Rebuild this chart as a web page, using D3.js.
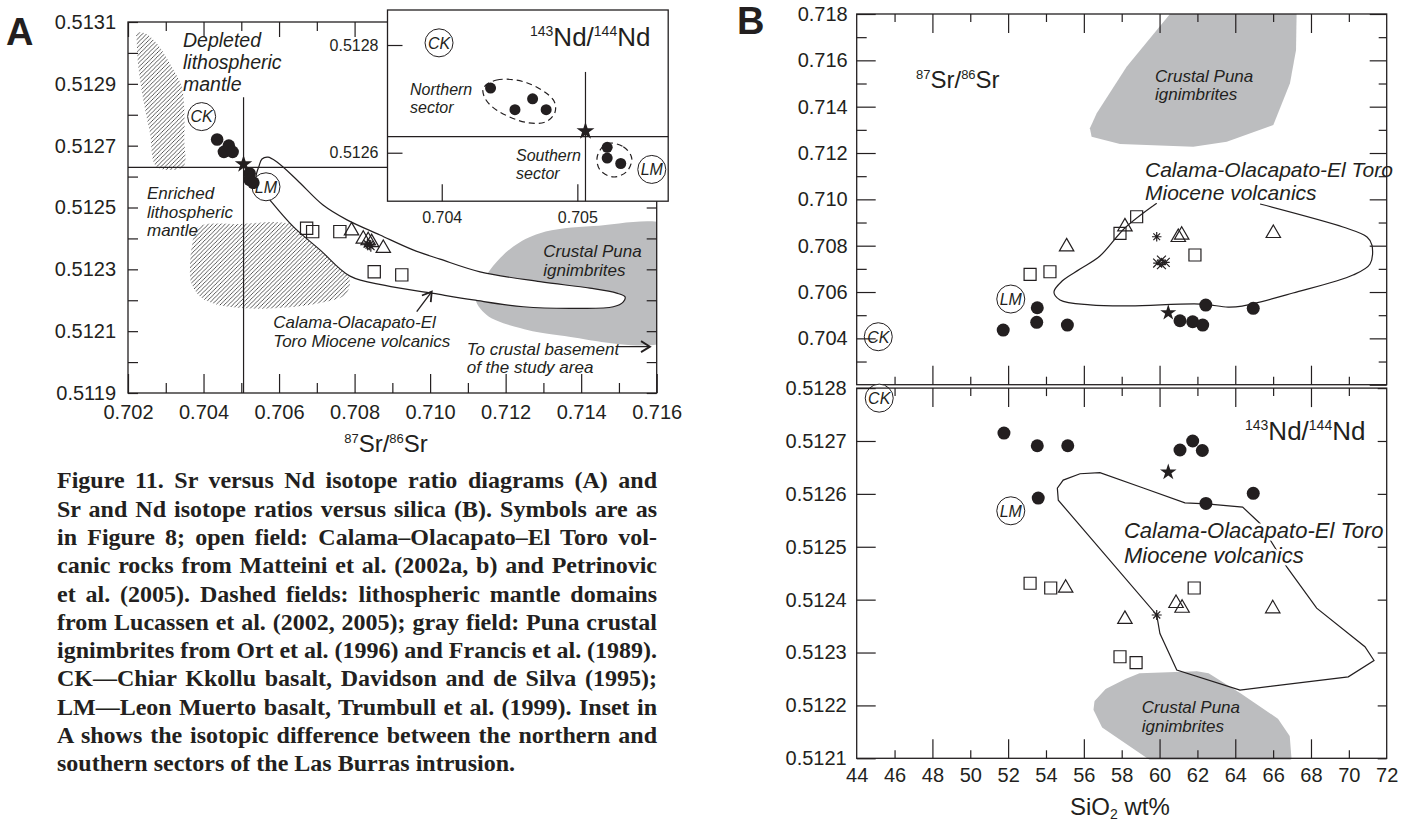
<!DOCTYPE html>
<html>
<head>
<meta charset="utf-8">
<script src="https://cdn.jsdelivr.net/npm/d3@7"></script>
<style>
  body { margin: 0; background: #fff; }
  svg text { font-family: "Liberation Sans", Arial, sans-serif; fill: #231f20; }
  svg text.cap { font-family: "Liberation Serif", "Times New Roman", serif; font-weight: bold; }
</style>
</head>
<body>
<script>
// ---------- panel A : 87Sr/86Sr vs 143Nd/144Nd ----------
const aCircles = [[0.70436, 0.51272], [0.70454, 0.51268], [0.70467, 0.51270], [0.70477, 0.51268],
                  [0.70522, 0.51261], [0.70522, 0.51259], [0.70532, 0.51258]];
const aSquares = [[0.70673, 0.512433], [0.70689, 0.512422], [0.70761, 0.512422], [0.70852, 0.512292], [0.70925, 0.512282]];
const aTriangles = [[0.70792, 0.512425], [0.70823, 0.512398], [0.70836, 0.512393], [0.70845, 0.512387], [0.70876, 0.512368]];
const aAsterisks = [[0.70834, 0.512382], [0.70839, 0.512379], [0.70843, 0.512374]];
const refPoint = [0.70506, 0.51264];       // star, cross lines
const refLineNd = 0.51263;
const aCK = [0.70395, 0.512794], aLM = [0.705654, 0.512567];
const insetCK = [0.70398, 0.512804], insetLM = [0.705549, 0.512569];

const depletedField = [[0.70223, 0.513064], [0.70245, 0.513064], [0.70276, 0.513031], [0.703157, 0.512955],
  [0.703422, 0.512891], [0.703491, 0.512815], [0.703491, 0.512718], [0.703464, 0.512632], [0.70276, 0.512632],
  [0.702583, 0.51274], [0.702405, 0.512848], [0.702273, 0.512955], [0.70223, 0.513042]];
const enrichedField = [[0.703854, 0.512437], [0.704966, 0.512447], [0.706396, 0.512443], [0.707084, 0.512363],
  [0.707791, 0.512287], [0.707879, 0.512253], [0.707746, 0.512217], [0.707084, 0.512191], [0.706025, 0.512175],
  [0.705098, 0.512174], [0.704304, 0.512188], [0.703907, 0.512212], [0.703668, 0.512259], [0.703642, 0.512304],
  [0.703695, 0.512379]];
const aPunaField = [[0.71291, 0.512417], [0.712195, 0.512373], [0.711586, 0.512298], [0.711189, 0.512212],
  [0.711499, 0.512152], [0.712381, 0.51211], [0.713353, 0.512088], [0.7165, 0.512081], [0.7165, 0.51243],
  [0.714322, 0.51244]];
const aCalamaField = [[0.70539, 0.512595], [0.705469, 0.512634], [0.705548, 0.512657], [0.705707, 0.512663],
  [0.705946, 0.512647], [0.706475, 0.512589], [0.707164, 0.512508], [0.707799, 0.51246], [0.708673, 0.512411],
  [0.709547, 0.512363], [0.710262, 0.512333], [0.711321, 0.512292], [0.71291, 0.51226], [0.714234, 0.512239],
  [0.714941, 0.512223], [0.715161, 0.512211], [0.715116, 0.512195], [0.714851, 0.512179], [0.713792, 0.512174],
  [0.712468, 0.512179], [0.711144, 0.512201], [0.710085, 0.512222], [0.708806, 0.512248], [0.707879, 0.512278],
  [0.707084, 0.512363], [0.706377, 0.512438], [0.70576, 0.512524], [0.705548, 0.512557]];
const northernLoop = [[0.704307, 0.51272], [0.704406, 0.512735], [0.704627, 0.51273], [0.704823, 0.512698],
  [0.704836, 0.512676], [0.704774, 0.512658], [0.704627, 0.512656], [0.704406, 0.512679], [0.704319, 0.512701]];
const southernLoop = [[0.705217, 0.512617], [0.705339, 0.512611], [0.705401, 0.51259], [0.705364, 0.512565],
  [0.705265, 0.512555], [0.705167, 0.512568], [0.705147, 0.512593]];
const arrowCalama = [[0.709645, 0.512163], [0.710043, 0.512228]];
const arrowBasement = [[0.714984, 0.51205], [0.715823, 0.51205]];

const aSrLabels = [0.702, 0.704, 0.706, 0.708, 0.710, 0.712, 0.714, 0.716];
const aSrMinor = [0.703, 0.705, 0.707, 0.709, 0.711, 0.713, 0.715];
const aNdLabels = [0.5119, 0.5121, 0.5123, 0.5125, 0.5127, 0.5129, 0.5131];
const aNdMinor = [0.5120, 0.5122, 0.5124, 0.5126, 0.5128, 0.5130];
const insetSrLabels = [0.704, 0.705];
const insetNdLabels = [0.5126, 0.5128];

// ---------- panel B : SiO2 vs 87Sr/86Sr (top) and 143Nd/144Nd (bottom) ----------
const bSrCircles = [[51.74, 0.704359], [53.54, 0.705321], [53.51, 0.704691], [55.13, 0.704575], [61.08, 0.70476],
  [61.75, 0.704717], [62.28, 0.704575], [62.44, 0.705438], [64.95, 0.705296]];
const bSrSquares = [[53.16, 0.706763], [54.21, 0.706876], [57.91, 0.708533], [58.79, 0.70925], [61.87, 0.707597]];
const bSrTriangles = [[55.09, 0.707955], [58.17, 0.708818], [60.99, 0.70836], [61.17, 0.70846], [66.01, 0.708533]];
const bSrAsterisks = [[59.85, 0.708386]];
const bSrCrosses = [[59.9, 0.70725], [60.1, 0.70738], [60.3, 0.70728], [60.1, 0.70718]];
const bSrStar = [60.46, 0.705106];
const bSrCK = [45.14, 0.70407], bSrLM = [52.14, 0.705697];
const bSrPuna = [[60.55, 0.718], [67.24, 0.718], [67.21, 0.71645], [66.89, 0.71501], [66.01, 0.71321],
  [63.55, 0.71249], [61.78, 0.71227], [57.91, 0.71239], [56.41, 0.712703], [56.32, 0.713066], [56.68, 0.713713],
  [58.26, 0.715725]];
const bSrCalama = [[59.85, 0.709828], [58.17, 0.708762], [56.85, 0.707553], [55.8, 0.706992], [54.85, 0.706474],
  [54.42, 0.706], [54.74, 0.705658], [56.33, 0.705442], [58.44, 0.705399], [62.14, 0.705481], [63.62, 0.705352],
  [64.36, 0.705395], [67.05, 0.705956], [70.22, 0.706733], [71.12, 0.707208], [71.22, 0.708028], [70.96, 0.708374],
  [69.69, 0.708805], [65.31, 0.709798]];

const bNdCircles = [[51.78, 0.512715], [53.54, 0.512691], [55.15, 0.512691], [53.59, 0.512592], [61.08, 0.512683],
  [61.75, 0.5127], [62.26, 0.512682], [62.45, 0.512582], [64.95, 0.512601]];
const bNdSquares = [[53.16, 0.512431], [54.25, 0.512422], [61.83, 0.512422], [57.91, 0.512292], [58.76, 0.512281]];
const bNdTriangles = [[55.04, 0.512422], [58.17, 0.512363], [60.87, 0.512393], [61.19, 0.512384], [65.98, 0.512383]];
const bNdAsterisks = [[59.85, 0.512371]];
const bNdStar = [60.46, 0.512641];
const bNdCK = [45.19, 0.512781], bNdLM = [52.14, 0.512568];
const bNdPuna = [[58.97, 0.512258], [61.96, 0.512262], [62.57, 0.512258], [64.25, 0.51222], [66.19, 0.512173],
  [66.8, 0.512141], [66.89, 0.5121], [59.49, 0.5121], [57.03, 0.51216], [56.59, 0.512192], [56.64, 0.512207],
  [57.21, 0.512229], [58.26, 0.512248]];
const bNdCalama = [[54.65, 0.512588], [54.6, 0.512611], [54.91, 0.512626], [55.8, 0.512638], [56.85, 0.51264],
  [59.14, 0.512611], [61.34, 0.512583], [62.49, 0.512581], [64.39, 0.512575], [65.31, 0.512544], [66.72, 0.512462],
  [68.3, 0.512384], [70.85, 0.512311], [71.33, 0.512285], [69.97, 0.512254], [64.25, 0.512229], [60.91, 0.512267],
  [60.02, 0.512336], [59.85, 0.512371]];

const silicaLabels = [44, 46, 48, 50, 52, 54, 56, 58, 60, 62, 64, 66, 68, 70, 72];
const silicaLong = [48, 52, 56, 60, 64, 68];
const silicaShort = [46, 50, 54, 58, 62, 66, 70];
const bSrLabels = [0.704, 0.706, 0.708, 0.710, 0.712, 0.714, 0.716, 0.718];
const bSrEven = [0.702, 0.704, 0.706, 0.708, 0.710, 0.712, 0.714, 0.716, 0.718];
const bSrOdd = [0.703, 0.705, 0.707, 0.709, 0.711, 0.713, 0.715, 0.717];
const bNdLabels = [0.5121, 0.5122, 0.5123, 0.5124, 0.5125, 0.5126, 0.5127, 0.5128];

const captionLines = [
  "Figure 11. Sr versus Nd isotope ratio diagrams (A) and",
  "Sr and Nd isotope ratios versus silica (B). Symbols are as",
  "in Figure 8; open field: Calama\u2013Olacapato\u2013El Toro vol-",
  "canic rocks from Matteini et al. (2002a, b) and Petrinovic",
  "et al. (2005). Dashed fields: lithospheric mantle domains",
  "from Lucassen et al. (2002, 2005); gray field: Puna crustal",
  "ignimbrites from Ort et al. (1996) and Francis et al. (1989).",
  "CK\u2014Chiar Kkollu basalt, Davidson and de Silva (1995);",
  "LM\u2014Leon Muerto basalt, Trumbull et al. (1999). Inset in",
  "A shows the isotopic difference between the northern and",
  "southern sectors of the Las Burras intrusion."
];

// ---------- drawing ----------
const ink = "#231f20", gray = "#bcbdbf";
const svg = d3.select("body").append("svg").attr("width", 1422).attr("height", 825);
const defs = svg.append("defs");
defs.append("pattern").attr("id", "hatch").attr("patternUnits", "userSpaceOnUse")
  .attr("width", 4.2).attr("height", 4.2)
  .append("path").attr("d", "M-1,1 l2,-2 M0,4.2 l4.2,-4.2 M3.2,5.2 l2,-2")
  .attr("stroke", "#333").attr("stroke-width", 0.8);
defs.append("marker").attr("id", "arr").attr("markerUnits", "userSpaceOnUse")
  .attr("markerWidth", 14).attr("markerHeight", 14).attr("refX", 11).attr("refY", 7).attr("orient", "auto")
  .append("path").attr("d", "M2,1.5 L11,7 L2,12.5").attr("fill", "none").attr("stroke", ink).attr("stroke-width", 1.8);

const fmt3 = d3.format(".3f"), fmt4 = d3.format(".4f");

function axis(g, gen, vals, len, fmt, pad, size) {
  const a = gen.tickValues(vals).tickSizeInner(-len).tickSizeOuter(0).tickPadding(pad || 0)
    .tickFormat(fmt || (() => ""));
  const sel = g.append("g").call(a);
  sel.select(".domain").remove();
  sel.attr("font-family", null).attr("font-size", size || 20).attr("color", ink);
  sel.selectAll("line").attr("stroke-width", 1.2);
  return sel;
}

const asterisk8 = {
  draw(ctx, size) {
    const r = Math.sqrt(size) / 2;
    for (let k = 0; k < 4; k++) {
      const a = k * Math.PI / 4, dx = r * Math.cos(a), dy = r * Math.sin(a);
      ctx.moveTo(-dx, -dy); ctx.lineTo(dx, dy);
    }
  }
};
const crossX = {
  draw(ctx, size) {
    const r = Math.sqrt(size) / 2;
    ctx.moveTo(-r, -r); ctx.lineTo(r, r); ctx.moveTo(-r, r); ctx.lineTo(r, -r);
    ctx.moveTo(-r, 0); ctx.lineTo(r, 0);
  }
};

function symbols(g, data, x, y, type, size, filled) {
  g.selectAll(null).data(data).join("path")
    .attr("transform", d => `translate(${x(d[0])},${y(d[1])})`)
    .attr("d", d3.symbol(type, size))
    .attr("fill", filled ? ink : "none")
    .attr("stroke", ink).attr("stroke-width", filled ? 0 : 1.2);
}
function dots(g, data, x, y, r) {
  g.selectAll(null).data(data).join("circle")
    .attr("cx", d => x(d[0])).attr("cy", d => y(d[1])).attr("r", r).attr("fill", ink);
}
function badge(g, p, x, y, txt) {
  g.append("circle").attr("cx", x(p[0])).attr("cy", y(p[1])).attr("r", 14)
    .attr("fill", "#fff").attr("stroke", ink).attr("stroke-width", 1);
  g.append("text").attr("x", x(p[0])).attr("y", y(p[1])).attr("dy", "0.36em")
    .attr("text-anchor", "middle").attr("font-style", "italic").attr("font-size", 16).text(txt);
}
function note(g, p, x, y, lines, size, lead, halo) {
  const t = g.append("text").attr("x", x(p[0])).attr("y", y(p[1]))
    .attr("font-style", "italic").attr("font-size", size);
  if (halo) t.attr("stroke", "#fff").attr("stroke-width", 5).attr("paint-order", "stroke");
  lines.forEach((s, i) => t.append("tspan").attr("x", x(p[0])).attr("dy", i ? lead : 0).text(s));
}
function iso(g, px, py, parts, big, small) {
  const t = g.append("text").attr("x", px).attr("y", py).attr("font-size", big);
  let up = false;
  parts.forEach(s => {
    const sup = /^\d+$/.test(s);
    const sh = big * 0.38;
    t.append("tspan").attr("font-size", sup ? small : big)
      .attr("dy", sup && !up ? -sh : (!sup && up ? sh : 0)).text(s);
    up = sup;
  });
}

// ===== Panel A main =====
const xA = d3.scaleLinear().domain([0.702, 0.716]).range([128, 656.7]);
const yA = d3.scaleLinear().domain([0.5119, 0.5131]).range([393, 22]);
const gA = svg.append("g");
const lineA = d3.line().x(d => xA(d[0])).y(d => yA(d[1]));

defs.append("clipPath").attr("id", "clipA").append("rect")
  .attr("x", xA(0.702)).attr("y", yA(0.5131)).attr("width", xA(0.716) - xA(0.702))
  .attr("height", yA(0.5119) - yA(0.5131));
gA.append("path").attr("d", lineA.curve(d3.curveCatmullRomClosed)(aPunaField)).attr("fill", gray)
  .attr("clip-path", "url(#clipA)");
gA.append("path").attr("d", lineA(depletedField)).attr("fill", "url(#hatch)");
gA.append("path").attr("d", lineA(enrichedField)).attr("fill", "url(#hatch)");
gA.append("path").attr("d", lineA(aCalamaField)).attr("fill", "#fff").attr("stroke", ink).attr("stroke-width", 1.2);
lineA.curve(d3.curveLinear);

// reference cross
gA.append("line").attr("x1", xA(refPoint[0])).attr("x2", xA(refPoint[0]))
  .attr("y1", yA(0.512857)).attr("y2", yA(0.5119)).attr("stroke", ink).attr("stroke-width", 1.2);
gA.append("line").attr("x1", xA(0.702)).attr("x2", xA(0.716))
  .attr("y1", yA(refLineNd)).attr("y2", yA(refLineNd)).attr("stroke", ink).attr("stroke-width", 1.2);

// frame + ticks
gA.append("rect").attr("x", xA(0.702)).attr("y", yA(0.5131)).attr("width", xA(0.716) - xA(0.702))
  .attr("height", yA(0.5119) - yA(0.5131)).attr("fill", "none").attr("stroke", ink).attr("stroke-width", 1.3);
axis(gA.append("g").attr("transform", `translate(0,${yA(0.5119)})`), d3.axisBottom(xA), aSrLabels, 19, fmt3, 12);
axis(gA.append("g").attr("transform", `translate(0,${yA(0.5119)})`), d3.axisBottom(xA), aSrMinor, 10);
axis(gA.append("g").attr("transform", `translate(0,${yA(0.5131)})`), d3.axisTop(xA), aSrLabels, 15);
axis(gA.append("g").attr("transform", `translate(0,${yA(0.5131)})`), d3.axisTop(xA), aSrMinor, 9);
axis(gA.append("g").attr("transform", `translate(${xA(0.702)},0)`), d3.axisLeft(yA), aNdLabels, 10, fmt4, 12);
axis(gA.append("g").attr("transform", `translate(${xA(0.702)},0)`), d3.axisLeft(yA), aNdMinor, 10);
axis(gA.append("g").attr("transform", `translate(${xA(0.716)},0)`), d3.axisRight(yA), aNdLabels.concat(aNdMinor), 10);

note(gA, [0.703456, 0.51302], xA, yA, ["Depleted", "lithospheric", "mantle"], 19.5, 22);
note(gA, [0.702503, 0.512527], xA, yA, ["Enriched", "lithospheric", "mantle"], 17, 18.5);
note(gA, [0.712998, 0.512339], xA, yA, ["Crustal Puna", "ignimbrites"], 17, 18.7);
note(gA, [0.705848, 0.512109], xA, yA, ["Calama-Olacapato-El", "Toro Miocene volcanics"], 17, 18.4);
note(gA, [0.710969, 0.512023], xA, yA, ["To crustal basement", "of the study area"], 17, 18.3);
gA.append("path").attr("d", lineA(arrowCalama)).attr("stroke", ink).attr("stroke-width", 1.3).attr("marker-end", "url(#arr)");
gA.append("path").attr("d", lineA(arrowBasement)).attr("stroke", ink).attr("stroke-width", 1.3).attr("marker-end", "url(#arr)");

badge(gA, aCK, xA, yA, "CK");
badge(gA, aLM, xA, yA, "LM");
symbols(gA, aSquares, xA, yA, d3.symbolSquare, 150, false);
symbols(gA, aTriangles, xA, yA, d3.symbolTriangle, 90, false);
symbols(gA, aAsterisks, xA, yA, asterisk8, 110, false);
dots(gA, aCircles, xA, yA, 6.3);
symbols(gA, [refPoint], xA, yA, d3.symbolStar, 95, true);

gA.append("text").attr("x", 386).attr("y", 452).attr("text-anchor", "middle").attr("font-size", 24)
  .call(t => {
    t.append("tspan").attr("font-size", 13).attr("dy", -9).text("87");
    t.append("tspan").attr("dy", 9).text("Sr/");
    t.append("tspan").attr("font-size", 13).attr("dy", -9).text("86");
    t.append("tspan").attr("dy", 9).text("Sr");
  });

// ===== Panel A inset =====
const xI = d3.scaleLinear().domain([0.7036, 0.70567]).range([387.5, 668.2]);
const yI = d3.scaleLinear().domain([0.51251, 0.512865]).range([201.2, 10]);
const gI = svg.append("g");
gI.append("rect").attr("x", xI(0.7036)).attr("y", yI(0.512865)).attr("width", xI(0.70567) - xI(0.7036))
  .attr("height", yI(0.51251) - yI(0.512865)).attr("fill", "#fff").attr("stroke", ink).attr("stroke-width", 1.3);
gI.append("line").attr("x1", xI(refPoint[0])).attr("x2", xI(refPoint[0]))
  .attr("y1", yI(0.51275)).attr("y2", yI(0.51251)).attr("stroke", ink).attr("stroke-width", 1.2);
gI.append("line").attr("x1", xI(0.7036)).attr("x2", xI(0.70567))
  .attr("y1", yI(refLineNd)).attr("y2", yI(refLineNd)).attr("stroke", ink).attr("stroke-width", 1.2);
axis(gI.append("g").attr("transform", `translate(0,${yI(0.51251)})`), d3.axisBottom(xI), insetSrLabels, 17, fmt3, 10, 16);
axis(gI.append("g").attr("transform", `translate(${xI(0.7036)},0)`), d3.axisLeft(yI), insetNdLabels, 15, fmt4, 9, 16);

const loop = d3.line().x(d => xI(d[0])).y(d => yI(d[1])).curve(d3.curveCatmullRomClosed);
gI.append("path").attr("d", loop(northernLoop)).attr("fill", "none").attr("stroke", ink)
  .attr("stroke-width", 1.2).attr("stroke-dasharray", "6,4");
gI.append("path").attr("d", loop(southernLoop)).attr("fill", "none").attr("stroke", ink)
  .attr("stroke-width", 1.2).attr("stroke-dasharray", "6,4");
dots(gI, aCircles, xI, yI, 5.5);
symbols(gI, [refPoint], xI, yI, d3.symbolStar, 100, true);
badge(gI, insetCK, xI, yI, "CK");
badge(gI, insetLM, xI, yI, "LM");
note(gI, [0.703766, 0.512707], xI, yI, ["Northern", "sector"], 16, 18.3);
note(gI, [0.704548, 0.512585], xI, yI, ["Southern", "sector"], 16, 18.3);
iso(gI, 530, 46, ["143", "Nd/", "144", "Nd"], 26, 14);

svg.append("text").attr("x", 6).attr("y", 45).attr("font-size", 38).attr("font-weight", "bold").text("A");
svg.append("text").attr("x", 737).attr("y", 34).attr("font-size", 38).attr("font-weight", "bold").text("B");

// ===== Panel B =====
const xB = d3.scaleLinear().domain([44, 72]).range([856.7, 1386.7]);
const ySr = d3.scaleLinear().domain([0.702, 0.718]).range([384.7, 14]);
const yNd = d3.scaleLinear().domain([0.5121, 0.5128]).range([758.3, 388.1]);
const gT = svg.append("g"), gB = svg.append("g");
const lineT = d3.line().x(d => xB(d[0])).y(d => ySr(d[1]));
const lineB = d3.line().x(d => xB(d[0])).y(d => yNd(d[1]));

// top
gT.append("path").attr("d", lineT(bSrPuna) + "Z").attr("fill", gray);
gT.append("path").attr("d", lineT.curve(d3.curveCatmullRom)(bSrCalama)).attr("fill", "none")
  .attr("stroke", ink).attr("stroke-width", 1.2);
note(gT, [59.76, 0.715078], xB, ySr, ["Crustal Puna", "ignimbrites"], 17, 18.3);
note(gT, [59.23, 0.710977], xB, ySr, ["Calama-Olacapato-El Toro", "Miocene volcanics"], 21, 23.3, true);
iso(gT, 916, 88, ["87", "Sr/", "86", "Sr"], 24, 13);
badge(gT, bSrCK, xB, ySr, "CK");
badge(gT, bSrLM, xB, ySr, "LM");
gT.append("rect").attr("x", xB(44)).attr("y", ySr(0.718)).attr("width", xB(72) - xB(44))
  .attr("height", ySr(0.702) - ySr(0.718)).attr("fill", "none").attr("stroke", ink).attr("stroke-width", 1.3);
axis(gT.append("g").attr("transform", `translate(${xB(44)},0)`), d3.axisLeft(ySr), bSrLabels, 19, fmt3, 9);
axis(gT.append("g").attr("transform", `translate(${xB(44)},0)`), d3.axisLeft(ySr), bSrOdd, 10);
axis(gT.append("g").attr("transform", `translate(${xB(72)},0)`), d3.axisRight(ySr), bSrEven, 17);
axis(gT.append("g").attr("transform", `translate(${xB(72)},0)`), d3.axisRight(ySr), bSrOdd, 8);
axis(gT.append("g").attr("transform", `translate(0,${ySr(0.718)})`), d3.axisTop(xB), silicaLong, 19);
axis(gT.append("g").attr("transform", `translate(0,${ySr(0.718)})`), d3.axisTop(xB), silicaShort, 8);
axis(gT.append("g").attr("transform", `translate(0,${ySr(0.702)})`), d3.axisBottom(xB), silicaLong, 19);
axis(gT.append("g").attr("transform", `translate(0,${ySr(0.702)})`), d3.axisBottom(xB), silicaShort, 8);
symbols(gT, bSrSquares, xB, ySr, d3.symbolSquare, 144, false);
symbols(gT, bSrTriangles, xB, ySr, d3.symbolTriangle, 90, false);
symbols(gT, bSrAsterisks, xB, ySr, asterisk8, 90, false);
symbols(gT, bSrCrosses, xB, ySr, crossX, 80, false);
dots(gT, bSrCircles, xB, ySr, 6.5);
symbols(gT, [bSrStar], xB, ySr, d3.symbolStar, 80, true);

// bottom
gB.append("path").attr("d", lineB(bNdPuna) + "Z").attr("fill", gray)
  .attr("stroke", gray).attr("stroke-width", 3).attr("stroke-linejoin", "round");
gB.append("path").attr("d", lineB(bNdCalama) + "Z").attr("fill", "none")
  .attr("stroke", ink).attr("stroke-width", 1.2);
note(gB, [58.12, 0.512516], xB, yNd, ["Calama-Olacapato-El Toro", "Miocene volcanics"], 22, 25, true);
note(gB, [59.06, 0.512185], xB, yNd, ["Crustal Puna", "ignimbrites"], 17, 18.4);
iso(gB, 1245, 440, ["143", "Nd/", "144", "Nd"], 26, 14);
badge(gB, bNdCK, xB, yNd, "CK");
badge(gB, bNdLM, xB, yNd, "LM");
gB.append("rect").attr("x", xB(44)).attr("y", yNd(0.5128)).attr("width", xB(72) - xB(44))
  .attr("height", yNd(0.5121) - yNd(0.5128)).attr("fill", "none").attr("stroke", ink).attr("stroke-width", 1.3);
axis(gB.append("g").attr("transform", `translate(${xB(44)},0)`), d3.axisLeft(yNd), bNdLabels, 19, fmt4, 10);
axis(gB.append("g").attr("transform", `translate(${xB(72)},0)`), d3.axisRight(yNd), bNdLabels, 9);
axis(gB.append("g").attr("transform", `translate(0,${yNd(0.5121)})`), d3.axisBottom(xB), silicaLabels, 0, d3.format("d"), 10);
axis(gB.append("g").attr("transform", `translate(0,${yNd(0.5121)})`), d3.axisBottom(xB), silicaLong, 19);
axis(gB.append("g").attr("transform", `translate(0,${yNd(0.5121)})`), d3.axisBottom(xB), silicaShort, 8);
axis(gB.append("g").attr("transform", `translate(0,${yNd(0.5128)})`), d3.axisTop(xB), silicaLong, 19);
axis(gB.append("g").attr("transform", `translate(0,${yNd(0.5128)})`), d3.axisTop(xB), silicaShort, 8);
symbols(gB, bNdSquares, xB, yNd, d3.symbolSquare, 144, false);
symbols(gB, bNdTriangles, xB, yNd, d3.symbolTriangle, 90, false);
symbols(gB, bNdAsterisks, xB, yNd, asterisk8, 100, false);
dots(gB, bNdCircles, xB, yNd, 6.5);
symbols(gB, [bNdStar], xB, yNd, d3.symbolStar, 85, true);

gB.append("text").attr("x", 1070).attr("y", 815).attr("font-size", 24).call(t => {
  t.append("tspan").text("SiO");
  t.append("tspan").attr("font-size", 14).attr("dy", 4).text("2");
  t.append("tspan").attr("dy", -4).text(" wt%");
});

// ===== caption =====
const gC = svg.append("g");
captionLines.forEach((s, i) => {
  const t = gC.append("text").attr("class", "cap").attr("x", 57).attr("y", 488.3 + i * 28.3)
    .attr("font-size", 24).text(s);
  if (i < captionLines.length - 1) {
    const gaps = s.split(" ").length - 1;
    const w = t.node().getComputedTextLength();
    t.attr("word-spacing", (600 - w) / gaps);
  }
});
</script>
</body>
</html>
